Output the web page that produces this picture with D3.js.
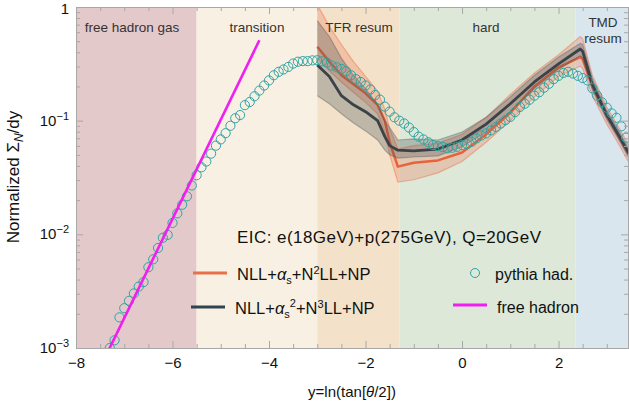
<!DOCTYPE html>
<html>
<head>
<meta charset="utf-8">
<script src="https://cdn.jsdelivr.net/npm/d3@7"></script>
<style>
  html, body { margin: 0; padding: 0; background: #fff; }
  svg { display: block; font-family: "Liberation Sans", Arial, sans-serif; }
</style>
</head>
<body>
<svg id="chart" width="629" height="411"></svg>
<script>
// regions along y
const regions = [
  { name: 'free hadron gas', from: -8, to: -5.5, color: '#e4c9ca' },
  { name: 'transition', from: -5.5, to: -3, color: '#f8f1e3' },
  { name: 'TFR resum', from: -3, to: -1.3, color: '#f3e2c9' },
  { name: 'hard', from: -1.3, to: 2.35, color: '#dde8d8' },
  { name: 'TMD resum', from: 2.35, to: 3.46, color: '#d9e6ed' }
];

// theory curves, shared y nodes
const theoryX = [-3, -2.75, -2.5, -2.25, -2, -1.75, -1.6, -1.5, -1.33, -1, -0.5, 0, 0.5, 1, 1.5, 2, 2.45, 2.5, 2.7, 3, 3.25, 3.46];
const n3llCentral = [0.309, 0.245, 0.166, 0.138, 0.120, 0.100, 0.0724, 0.0603, 0.0550, 0.0543, 0.0562, 0.0676, 0.0933, 0.141, 0.219, 0.316, 0.427, 0.407, 0.209, 0.112, 0.0741, 0.0513];
const n3llLow = [0.166, 0.141, 0.115, 0.0955, 0.0813, 0.0676, 0.0550, 0.0501, 0.0468, 0.0479, 0.0490, 0.0589, 0.0794, 0.120, 0.191, 0.282, 0.372, 0.355, 0.186, 0.102, 0.0676, 0.0468];
const n3llHigh = [0.759, 0.550, 0.355, 0.251, 0.191, 0.138, 0.100, 0.0871, 0.0676, 0.0692, 0.0676, 0.0794, 0.107, 0.162, 0.251, 0.363, 0.479, 0.468, 0.234, 0.123, 0.0813, 0.0562];
const n2llCentral = [0.447, 0.331, 0.251, 0.209, 0.174, 0.138, 0.100, 0.0646, 0.0394, 0.0427, 0.0447, 0.0525, 0.0759, 0.117, 0.200, 0.295, 0.363, 0.347, 0.200, 0.110, 0.0724, 0.0501];
const n2llLow = [0.355, 0.275, 0.219, 0.178, 0.145, 0.115, 0.0794, 0.0501, 0.0288, 0.0302, 0.0347, 0.0437, 0.0646, 0.100, 0.162, 0.245, 0.302, 0.288, 0.166, 0.0933, 0.0617, 0.0427];
const n2llHigh = [1.05, 0.676, 0.468, 0.331, 0.245, 0.182, 0.126, 0.0851, 0.0562, 0.0603, 0.0631, 0.0759, 0.107, 0.170, 0.263, 0.380, 0.550, 0.525, 0.251, 0.132, 0.0871, 0.0603];

// pythia hadron level [y, value]
const pythia = [
  [-7.3,0.00100],[-7.2,0.00117],[-7.1,0.00186],[-7.0,0.00224],[-6.9,0.00260],[-6.8,0.00302],[-6.7,0.00347],[-6.6,0.00380],
  [-6.5,0.00513],[-6.4,0.00603],[-6.3,0.00759],[-6.2,0.00933],[-6.1,0.00989],[-6.0,0.0126],[-5.9,0.0153],[-5.8,0.0182],
  [-5.7,0.0216],[-5.6,0.0269],[-5.5,0.0331],[-5.4,0.0389],[-5.3,0.0437],[-5.2,0.0513],[-5.1,0.0603],[-5.0,0.0684],
  [-4.9,0.0776],[-4.8,0.0902],[-4.7,0.105],[-4.6,0.112],[-4.5,0.137],[-4.4,0.146],[-4.3,0.164],[-4.2,0.184],
  [-4.1,0.204],[-4.0,0.226],[-3.9,0.251],[-3.8,0.269],[-3.7,0.282],[-3.6,0.297],[-3.5,0.318],[-3.4,0.330],
  [-3.3,0.334],[-3.2,0.334],[-3.1,0.339],[-3.0,0.340],[-2.9,0.333],[-2.8,0.324],[-2.7,0.305],[-2.6,0.295],
  [-2.5,0.285],[-2.4,0.272],[-2.3,0.251],[-2.2,0.232],[-2.1,0.219],[-2.0,0.204],[-1.9,0.188],[-1.8,0.168],
  [-1.7,0.153],[-1.6,0.133],[-1.5,0.120],[-1.4,0.107],[-1.3,0.100],[-1.2,0.0944],[-1.1,0.0871],[-1.0,0.0794],
  [-0.9,0.0724],[-0.8,0.0684],[-0.7,0.0646],[-0.6,0.0610],[-0.5,0.0596],[-0.4,0.0586],[-0.3,0.0571],[-0.2,0.0578],
  [-0.1,0.0589],[0.0,0.0610],[0.1,0.0624],[0.2,0.0652],[0.3,0.0698],[0.4,0.0741],[0.5,0.0773],[0.6,0.0822],
  [0.7,0.0881],[0.8,0.0944],[0.9,0.101],[1.0,0.108],[1.1,0.119],[1.2,0.132],[1.3,0.141],[1.4,0.153],
  [1.5,0.166],[1.6,0.178],[1.7,0.195],[1.8,0.211],[1.9,0.232],[2.0,0.248],[2.1,0.263],[2.2,0.269],
  [2.3,0.260],[2.4,0.248],[2.5,0.237],[2.6,0.226],[2.7,0.193],[2.8,0.166],[2.9,0.145],[3.0,0.130],
  [3.1,0.116],[3.2,0.106],[3.3,0.0891],[3.4,0.0708]
];

// free hadron gas line (straight on log scale)
const freeHadron = [[-7.4, 0.00082], [-4.2, 0.51]];

const xMajor = [-8, -6, -4, -2, 0, 2];
const yMajor = [1, 0.1, 0.01, 0.001];

const plotLeft = 76, plotRight = 629, plotTop = 7, plotBottom = 348;
const svg = d3.select('#chart');

const x = d3.scaleLinear().domain([-8, 3.46]).range([plotLeft, plotRight]);
const y = d3.scaleLog().domain([0.001, 1]).range([plotBottom, plotTop]);

svg.append('defs').append('clipPath').attr('id', 'plot-clip')
  .append('rect')
  .attr('x', plotLeft).attr('y', plotTop)
  .attr('width', plotRight - plotLeft).attr('height', plotBottom - plotTop);

// background regions
svg.append('g')
  .selectAll('rect')
  .data(regions)
  .join('rect')
  .attr('x', d => x(d.from))
  .attr('y', plotTop)
  .attr('width', d => x(d.to) - x(d.from))
  .attr('height', plotBottom - plotTop)
  .attr('fill', d => d.color);

const plot = svg.append('g').attr('clip-path', 'url(#plot-clip)');

function drawTheory(low, high, central, fill, edge, lineColor, lineWidth) {
  const rows = theoryX.map((t, i) => ({ t, lo: low[i], hi: high[i], c: central[i] }));
  plot.append('path')
    .datum(rows)
    .attr('fill', fill)
    .attr('d', d3.area().x(d => x(d.t)).y0(d => y(d.lo)).y1(d => y(d.hi)));
  [d => d.lo, d => d.hi].forEach(acc => {
    plot.append('path')
      .datum(rows)
      .attr('fill', 'none')
      .attr('stroke', edge)
      .attr('stroke-width', 1.2)
      .attr('d', d3.line().x(d => x(d.t)).y(d => y(acc(d))));
  });
  plot.append('path')
    .datum(rows)
    .attr('fill', 'none')
    .attr('stroke', lineColor)
    .attr('stroke-width', lineWidth)
    .attr('stroke-linejoin', 'round')
    .attr('d', d3.line().x(d => x(d.t)).y(d => y(d.c)));
}

drawTheory(n2llLow, n2llHigh, n2llCentral, 'rgba(236,110,75,0.28)', 'rgba(236,110,75,0.45)', '#e8633b', 2.5);
drawTheory(n3llLow, n3llHigh, n3llCentral, 'rgba(70,80,85,0.30)', 'rgba(70,80,85,0.35)', '#3b4248', 2.8);

plot.append('g')
  .selectAll('circle')
  .data(pythia)
  .join('circle')
  .attr('cx', d => x(d[0]))
  .attr('cy', d => y(d[1]))
  .attr('r', 4.6)
  .attr('fill', 'none')
  .attr('stroke', '#2fa3a3')
  .attr('stroke-width', 1);

plot.append('path')
  .datum(freeHadron)
  .attr('fill', 'none')
  .attr('stroke', '#f01ef0')
  .attr('stroke-width', 2.6)
  .attr('d', d3.line().x(d => x(d[0])).y(d => y(d[1])));

// frame + ticks
const frameColor = '#a8a8a8';
const minorX = d3.range(-8, 3.5, 0.5).filter(v => !xMajor.includes(v));
const minorY = y.ticks().filter(v => !yMajor.includes(v));

function styleAxis(g) {
  g.select('.domain').attr('stroke', frameColor);
  g.selectAll('.tick line').attr('stroke', frameColor);
}

svg.append('g')
  .attr('transform', `translate(0,${plotBottom})`)
  .call(d3.axisBottom(x).tickValues(minorX).tickSize(-4).tickFormat('').tickSizeOuter(0))
  .call(styleAxis);
svg.append('g')
  .attr('transform', `translate(0,${plotBottom})`)
  .call(d3.axisBottom(x).tickValues(xMajor).tickSize(-7).tickPadding(9).tickSizeOuter(0)
    .tickFormat(d => d < 0 ? '\u2212' + Math.abs(d) : d))
  .call(styleAxis)
  .call(g => g.selectAll('text').attr('fill', '#111').attr('font-size', 15)
    .attr('font-family', '"Liberation Sans", Arial, sans-serif'));

svg.append('g')
  .attr('transform', `translate(0,${plotTop})`)
  .call(d3.axisTop(x).tickValues(minorX).tickSize(-4).tickFormat('').tickSizeOuter(0))
  .call(styleAxis);
svg.append('g')
  .attr('transform', `translate(0,${plotTop})`)
  .call(d3.axisTop(x).tickValues(xMajor).tickSize(-7).tickFormat('').tickSizeOuter(0))
  .call(styleAxis);

svg.append('g')
  .attr('transform', `translate(${plotLeft},0)`)
  .call(d3.axisLeft(y).tickValues(minorY).tickSize(-4).tickFormat('').tickSizeOuter(0))
  .call(styleAxis);
svg.append('g')
  .attr('transform', `translate(${plotLeft},0)`)
  .call(d3.axisLeft(y).tickValues(yMajor).tickSize(-7).tickFormat('').tickSizeOuter(0))
  .call(styleAxis);

svg.append('g')
  .attr('transform', `translate(${plotRight - 1},0)`)
  .call(d3.axisRight(y).tickValues(minorY).tickSize(-4).tickFormat('').tickSizeOuter(0))
  .call(styleAxis);
svg.append('g')
  .attr('transform', `translate(${plotRight - 1},0)`)
  .call(d3.axisRight(y).tickValues(yMajor).tickSize(-7).tickFormat('').tickSizeOuter(0))
  .call(styleAxis);

// y tick labels 10^-k
yMajor.forEach(v => {
  const t = svg.append('text')
    .attr('x', plotLeft - 7)
    .attr('y', v === 1 ? y(v) + 6.5 : y(v) + 5)
    .attr('text-anchor', 'end')
    .attr('font-size', 15)
    .attr('fill', '#111');
  if (v === 1) {
    t.text('1');
  } else {
    t.append('tspan').text('10');
    t.append('tspan').attr('font-size', 11).attr('dy', -6).text('\u2212' + Math.round(-Math.log10(v)));
  }
});

// region labels
const regionLabels = [
  { lines: ['free hadron gas'], cx: 132, y0: 32 },
  { lines: ['transition'], cx: 257, y0: 32 },
  { lines: ['TFR resum'], cx: 359, y0: 32 },
  { lines: ['hard'], cx: 486, y0: 32 },
  { lines: ['TMD', 'resum'], cx: 603, y0: 27 }
];
regionLabels.forEach(r => {
  r.lines.forEach((s, i) => {
    svg.append('text')
      .attr('x', r.cx)
      .attr('y', r.y0 + i * 16)
      .attr('text-anchor', 'middle')
      .attr('font-size', 13.5)
      .attr('fill', '#333')
      .text(s);
  });
});

// axis titles
svg.append('text')
  .attr('x', 352)
  .attr('y', 397)
  .attr('text-anchor', 'middle')
  .attr('font-size', 15)
  .attr('fill', '#111')
  .call(t => {
    t.append('tspan').text('y=ln(tan[');
    t.append('tspan').attr('font-style', 'italic').text('\u03b8');
    t.append('tspan').text('/2])');
  });

svg.append('text')
  .attr('transform', 'translate(19,177) rotate(-90)')
  .attr('text-anchor', 'middle')
  .attr('font-size', 17)
  .attr('fill', '#111')
  .call(t => {
    t.append('tspan').text('Normalized \u03a3');
    t.append('tspan').attr('font-size', 12).attr('dy', 4).attr('font-style', 'italic').text('N');
    t.append('tspan').attr('dy', -4).text('/dy');
  });

// legend
svg.append('text')
  .attr('x', 237).attr('y', 243)
  .attr('font-size', 17).attr('fill', '#111')
  .attr('textLength', 304).attr('lengthAdjust', 'spacing')
  .text('EIC: e(18GeV)+p(275GeV), Q=20GeV');

function legendLabel(xp, yp, pow, order) {
  const t = svg.append('text').attr('x', xp).attr('y', yp).attr('font-size', 16.5).attr('fill', '#111');
  t.append('tspan').text('NLL+');
  t.append('tspan').attr('font-style', 'italic').text('\u03b1');
  t.append('tspan').attr('font-size', 11).attr('dy', 4).text('s');
  if (pow) {
    t.append('tspan').attr('font-size', 11).attr('dy', -11).text(pow);
    t.append('tspan').attr('dy', 7).text('+N');
  } else {
    t.append('tspan').attr('dy', -4).text('+N');
  }
  t.append('tspan').attr('font-size', 11).attr('dy', -6).text(order);
  t.append('tspan').attr('dy', 6).text('LL+NP');
}

svg.append('line').attr('x1', 193).attr('x2', 227).attr('y1', 273).attr('y2', 273)
  .attr('stroke', '#e8704a').attr('stroke-width', 3);
legendLabel(237, 280, null, '2');
svg.append('line').attr('x1', 191).attr('x2', 225).attr('y1', 307).attr('y2', 307)
  .attr('stroke', '#2e4550').attr('stroke-width', 3);
legendLabel(235, 314, '2', '3');

svg.append('circle').attr('cx', 475).attr('cy', 273).attr('r', 4.5)
  .attr('fill', 'none').attr('stroke', '#2fa3a3').attr('stroke-width', 1);
svg.append('text').attr('x', 495).attr('y', 280).attr('font-size', 16).attr('fill', '#111').text('pythia had.');
svg.append('line').attr('x1', 453).attr('x2', 487).attr('y1', 305).attr('y2', 305)
  .attr('stroke', '#f01ef0').attr('stroke-width', 3);
svg.append('text').attr('x', 497).attr('y', 313).attr('font-size', 16).attr('fill', '#111').text('free hadron');
</script>
</body>
</html>
